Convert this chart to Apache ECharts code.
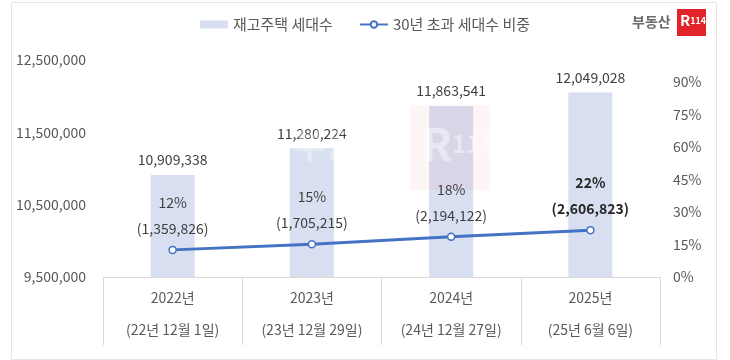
<!DOCTYPE html>
<html><head><meta charset="utf-8">
<script src="https://cdn.jsdelivr.net/npm/echarts@6/dist/echarts.min.js"></script>
<style>html,body{margin:0;padding:0;background:#fff}#c{width:730px;height:360px}</style>
</head><body><div id="c"></div>
<script>
const years = ['2022년','2023년','2024년','2025년'];
const dates = ['(22년 12월 1일)','(23년 12월 29일)','(24년 12월 27일)','(25년 6월 6일)'];
const households = [10909338, 11280224, 11863541, 12049028];
const over30Share = [12.5, 15.1, 18.5, 21.6];
const over30Count = [1359826, 1705215, 2194122, 2606823];
const over30ShareLabel = ['12%','15%','18%','22%'];

const FONT = '"Noto Sans CJK KR", "Noto Sans", sans-serif';
const fmt = n => n.toLocaleString('en-US');
const chart = echarts.init(document.getElementById('c'), null, {renderer:'canvas'});
const cats = years.map((y,i)=>y+'\n'+dates[i]);
chart.setOption({
  animation:false,
  textStyle:{fontFamily:FONT},
  legend:{
    top:12, left:'center', itemGap:26, itemWidth:28, itemHeight:8,
    textStyle:{fontSize:15, color:'#595959', fontFamily:FONT},
    data:[{name:'재고주택 세대수', icon:'rect'},{name:'30년 초과 세대수 비중'}]
  },
  grid:{left:103, right:70, top:60, bottom:83},
  xAxis:{
    type:'category', data:cats,
    axisLine:{show:true, lineStyle:{color:'#d9d9d9'}},
    axisTick:{show:true, interval:0, alignWithLabel:false, length:68, lineStyle:{color:'#d9d9d9', width:1}},
    axisLabel:{
      margin:5, fontSize:14, color:'#595959', lineHeight:32, fontFamily:FONT, interval:0
    }
  },
  yAxis:[
    {type:'value', min:9500000, max:12500000, interval:1000000,
     splitLine:{show:false}, axisLine:{show:false}, axisTick:{show:false},
     axisLabel:{fontSize:14, color:'#595959', margin:17, formatter:v=>fmt(v)}},
    {type:'value', min:0, max:100, interval:15,
     splitLine:{show:false}, axisLine:{show:false}, axisTick:{show:false},
     axisLabel:{fontSize:14, color:'#595959', margin:13, formatter:v=> v>90?'':v+'%'}}
  ],
  series:[
    {name:'재고주택 세대수', type:'bar', data:households, barWidth:44,
     itemStyle:{color:'#d7dff0'},
     label:{show:true, position:'top', distance:8, fontSize:14, color:'#404040',
            formatter:p=>fmt(p.value)}},
    {name:'30년 초과 세대수 비중', type:'line', yAxisIndex:1, data:over30Share,
     symbol:'circle', symbolSize:7,
     lineStyle:{color:'#4472c4', width:3},
     itemStyle:{color:'#ffffff', borderColor:'#4472c4', borderWidth:1.5},
     label:{show:true, position:'top', distance:4, fontSize:14, color:'#404040', lineHeight:26,
            formatter:p=>{
              const i=p.dataIndex;
              const t=over30ShareLabel[i]+'\n('+fmt(over30Count[i])+')';
              return i===3 ? '{b|'+over30ShareLabel[i]+'}\n{b|('+fmt(over30Count[i])+')}' : t;
            },
            rich:{b:{fontWeight:'bold', color:'#262626', fontSize:14, lineHeight:26}}}}
  ],
  graphic:[
    {type:'rect', left:9, top:0, shape:{width:705, height:357}, style:{fill:'none', stroke:'#e6e6e6', lineWidth:1}, silent:true, z:-10},
    {type:'text', left:632, top:15, style:{text:'부동산', font:'bold 14px '+FONT, fill:'#6b6b6b'}},
    {type:'rect', left:677, top:9, shape:{width:29, height:27}, style:{fill:'#e3232a'}},
    {type:'text', left:680, top:13, style:{text:'{r|R}{n|114}', fill:'#ffffff',
       rich:{r:{font:'bold 15px '+FONT, fill:'#fff'}, n:{font:'bold 9px '+FONT, fill:'#fff'}}}},
    {type:'rect', left:410, top:105, shape:{width:80, height:85}, style:{fill:'rgba(230,60,70,0.05)'}, z:100, silent:true},
    {type:'text', left:294, top:128, style:{text:'부동산', font:'bold 34px '+FONT, fill:'rgba(255,255,255,0.35)'}, z:100, silent:true},
    {type:'text', left:422, top:122, style:{text:'{r|R}{n|114}', fill:'rgba(255,255,255,0.45)',
       rich:{r:{font:'bold 44px '+FONT, fill:'rgba(255,255,255,0.45)'}, n:{font:'bold 24px '+FONT, fill:'rgba(255,255,255,0.45)'}}}, z:100, silent:true}
  ]
});
</script></body></html>
